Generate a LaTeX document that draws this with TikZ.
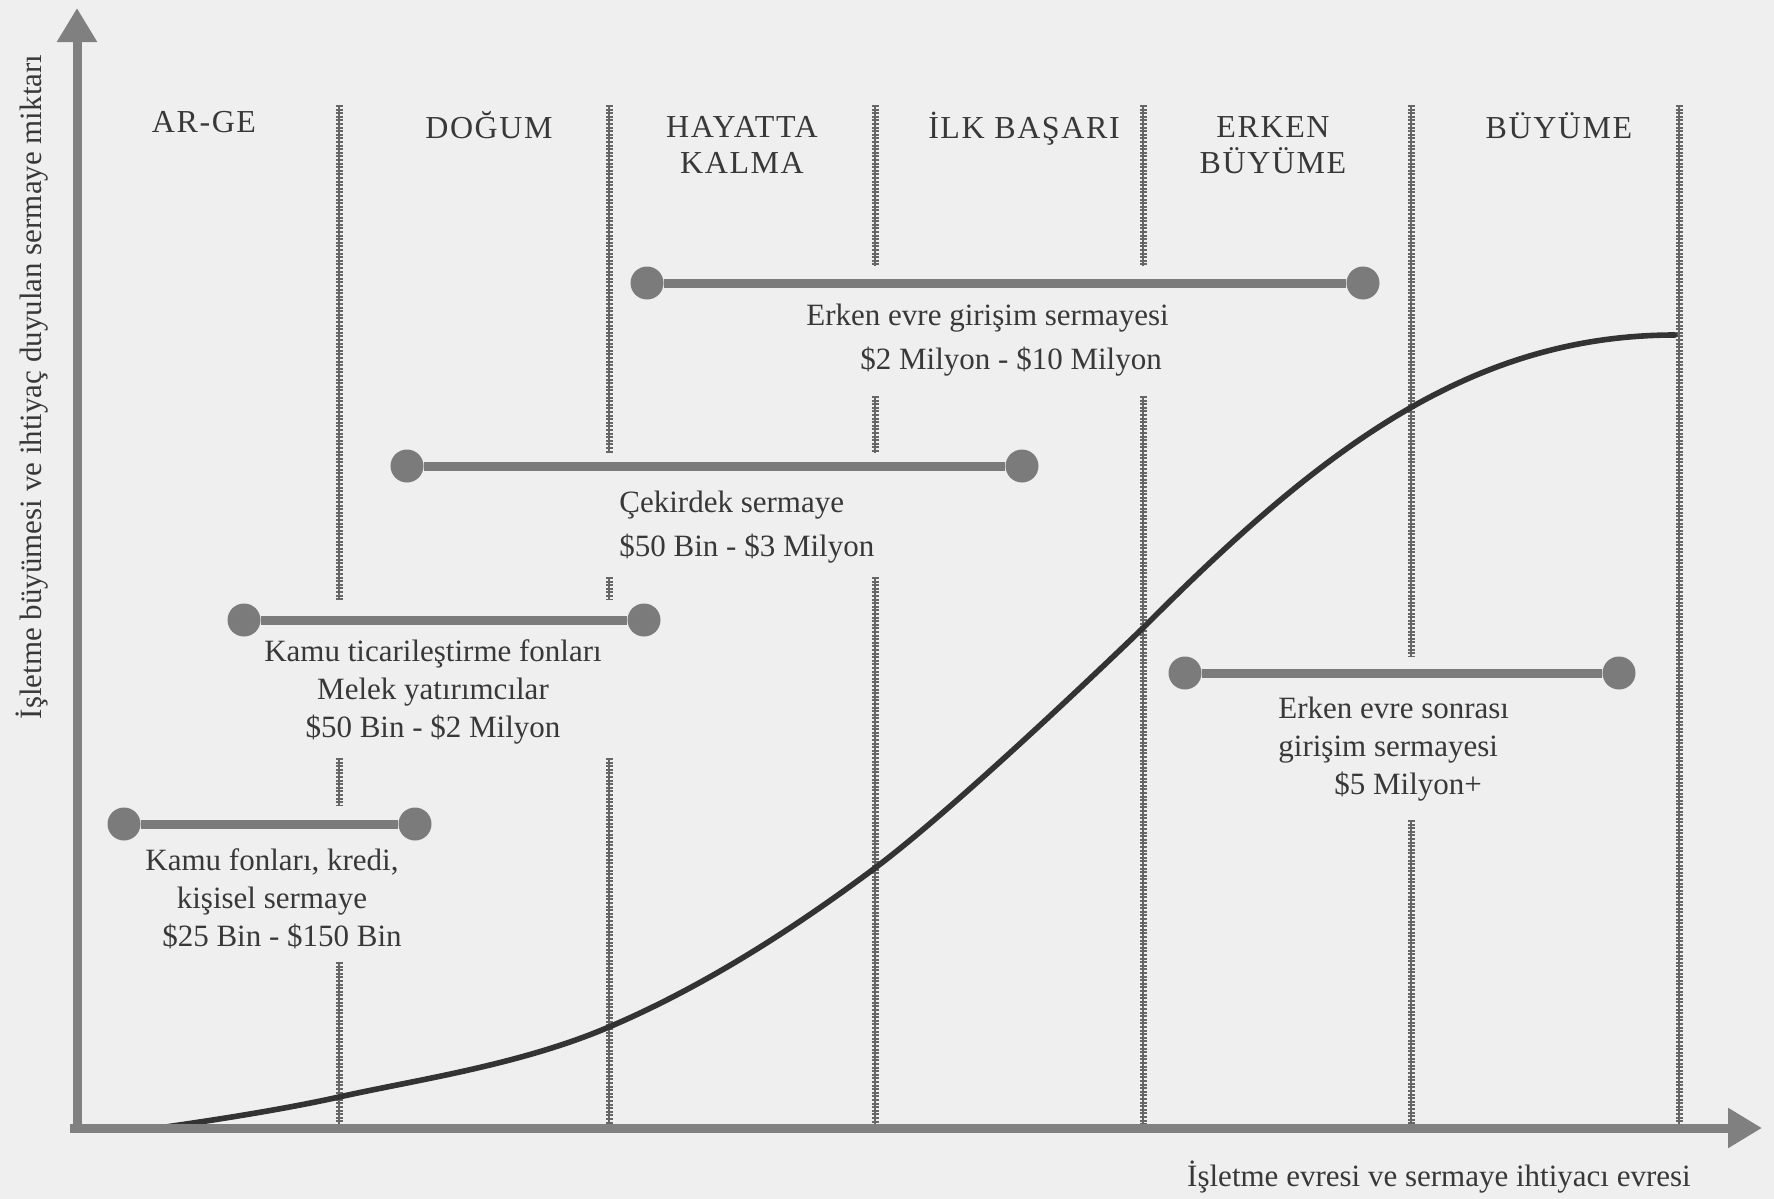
\documentclass[tikz,border=0pt]{standalone}
\usepackage{fontspec}
\setmainfont{Liberation Serif}
\newfontfamily\headfont[LetterSpace=5]{Liberation Serif}
\usetikzlibrary{arrows.meta}
\definecolor{bggray}{HTML}{EFEFEF}
\definecolor{axisgray}{HTML}{808080}
\definecolor{bargray}{HTML}{7B7B7B}
\definecolor{linegray}{HTML}{666666}
\definecolor{inkgray}{HTML}{383838}

\begin{document}
\begin{tikzpicture}[x=0.5pt, y=-0.5pt,
    axis/.style={draw=axisgray, line width=4.5pt, -{Triangle[length=17pt, width=19pt]}},
    divider/.style={draw=linegray, line width=1.2pt,
        preaction={draw=linegray, line width=3.5pt, dash pattern=on 1pt off 0.8pt}},
    stage/.style={font=\headfont\fontsize{16}{18}\selectfont, text=inkgray, inner sep=0pt, align=center},
    dot/.style={circle, fill=bargray, minimum size=16.5pt, inner sep=0pt},
    bar/.style={draw=bargray, line width=4.5pt},
    info/.style={font=\fontsize{15.5}{19}\selectfont, text=inkgray, inner sep=0pt},
    growth/.style={draw=black!80, line width=2.8pt, line cap=round}]

\fill[bggray] (0,0) rectangle (1774,1199);
\useasboundingbox (0,0) rectangle (1774,1199);

% stage dividers
\draw[divider] (339,105) -- (339,600);
\draw[divider] (339,758) -- (339,806);
\draw[divider] (339,962) -- (339,1126);
\draw[divider] (609,105) -- (609,453);
\draw[divider] (609,577) -- (609,600);
\draw[divider] (609,758) -- (609,1126);
\draw[divider] (875,105) -- (875,266);
\draw[divider] (875,396) -- (875,453);
\draw[divider] (875,577) -- (875,1126);
\draw[divider] (1143,105) -- (1143,266);
\draw[divider] (1143,396) -- (1143,1126);
\draw[divider] (1411,105) -- (1411,656);
\draw[divider] (1411,820) -- (1411,1126);
\draw[divider] (1679,105) -- (1679,1126);

% growth curve
\draw[growth] plot[smooth, tension=0.6] coordinates
    {(158,1128) (339,1097) (609,1027) (875,868) (1143,628)}
    .. controls (1320,450) and (1470,335) .. (1675,335);

% axes
\coordinate (o) at (77,1128);
\coordinate (ytop) at (77,8);
\coordinate (xend) at (1762,1128);
\draw[axis] (77,1132) -- (ytop);
\draw[axis] (70,1128) -- (xend);

\node[info, rotate=90] (ylab) at (32,387) {İşletme büyümesi ve ihtiyaç duyulan sermaye miktarı};
\node[info] (xlab) at (1439,1177) {İşletme evresi ve sermaye ihtiyacı evresi};

% stage names
\node[stage, anchor=base] (arge) at (204,132) {AR-GE};
\node[stage, anchor=base] (dogum) at (489,138) {DOĞUM};
\node[stage, anchor=north] (hayatta) at (742,116) {HAYATTA\\KALMA};
\node[stage, anchor=base] (ilk) at (1024,138) {İLK BAŞARI};
\node[stage, anchor=north] (erken) at (1273,116) {ERKEN\\BÜYÜME};
\node[stage, anchor=base] (buyume) at (1559,138) {BÜYÜME};

% funding ranges
\node[dot] (ee1) at (647,283) {};
\node[dot] (ee2) at (1363,283) {};
\draw[bar] (ee1) -- (ee2);
\node[info, anchor=north west, align=left] (eetxt) at (806,304)
    {Erken evre girişim sermayesi\\[3pt]\hspace*{27pt}\$2 Milyon - \$10 Milyon};

\node[dot] (ck1) at (407,466) {};
\node[dot] (ck2) at (1022,466) {};
\draw[bar] (ck1) -- (ck2);
\node[info, anchor=north west, align=left] (cktxt) at (619,491)
    {Çekirdek sermaye\\[3pt]\$50 Bin - \$3 Milyon};

\node[dot] (kt1) at (244,620) {};
\node[dot] (kt2) at (644,620) {};
\draw[bar] (kt1) -- (kt2);
\node[info, anchor=north, align=center] (kttxt) at (433,639)
    {Kamu ticarileştirme fonları\\Melek yatırımcılar\\\$50 Bin - \$2 Milyon};

\node[dot] (kf1) at (124,824) {};
\node[dot] (kf2) at (415,824) {};
\draw[bar] (kf1) -- (kf2);
\node[info, anchor=north, align=center] (kftxt) at (272,848)
    {Kamu fonları, kredi,\\kişisel sermaye\\\hspace*{10pt}\$25 Bin - \$150 Bin};

\node[dot] (es1) at (1185,673) {};
\node[dot] (es2) at (1619,673) {};
\draw[bar] (es1) -- (es2);
\node[info, anchor=north west, align=left] (estxt) at (1278,697)
    {Erken evre sonrası\\girişim sermayesi\\\hspace*{28pt}\$5 Milyon+};
\end{tikzpicture}
\end{document}
